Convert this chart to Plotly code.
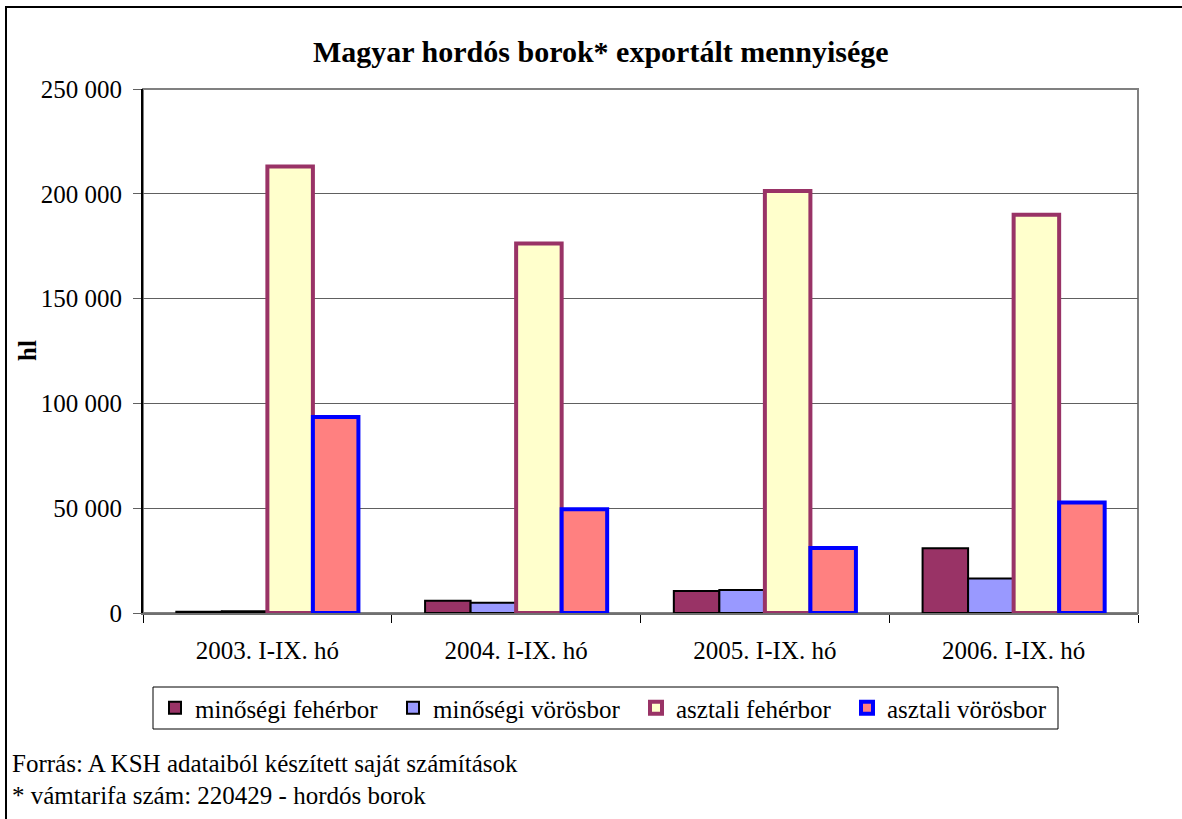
import plotly.graph_objects as go

categories = ["2003. I-IX. hó", "2004. I-IX. hó", "2005. I-IX. hó", "2006. I-IX. hó"]
minosegi_feher = [600, 5800, 10500, 30900]
minosegi_voros = [800, 4900, 11000, 16500]
asztali_feher = [213000, 176300, 201300, 190000]
asztali_voros = [93500, 49500, 31000, 52700]
y_tick_vals = [0, 50000, 100000, 150000, 200000, 250000]
y_tick_text = ["0", "50 000", "100 000", "150 000", "200 000", "250 000"]

FONT = "Liberation Serif, Times New Roman, Times, serif"
# screen-pixel geometry of the plot area
L, R, T, B = 143, 1138, 89, 613
W, H = 1182, 819


def px(sx):
    return (sx - L) / (R - L)


def py(sy):
    return (B - sy) / (B - T)


fig = go.Figure()
series = [
    ("minőségi fehérbor", minosegi_feher, "#993366", "#000000", 2, "legend", 193),
    ("minőségi vörösbor", minosegi_voros, "#9999FF", "#000000", 2, "legend2", 431),
    ("asztali fehérbor", asztali_feher, "#FFFFCC", "#993366", 4, "legend3", 674),
    ("asztali vörösbor", asztali_voros, "#FF8080", "#0000FF", 4, "legend4", 885),
]
legend_layouts = {}
for name, vals, fill, line, lw, leg, text_x in series:
    fig.add_trace(go.Bar(
        x=categories, y=vals, name=name, legend=leg,
        marker=dict(color=fill, line=dict(color=line, width=lw)),
    ))
    legend_layouts[leg] = dict(
        orientation="h", x=px(text_x - 38), xanchor="left",
        y=py(708), yanchor="middle",
        borderwidth=0, bgcolor="rgba(0,0,0,0)",
        font=dict(family=FONT, size=25, color="black"),
    )

fig.update_layout(
    width=W, height=H,
    margin=dict(l=L, r=W - R, t=T, b=H - B, pad=0),
    paper_bgcolor="white", plot_bgcolor="white",
    barmode="group", bargap=0.268, bargroupgap=0,
    font=dict(family=FONT, size=25, color="black"),
    showlegend=True,
    **legend_layouts,
)

fig.update_yaxes(
    range=[0, 250000], tickvals=y_tick_vals, ticktext=y_tick_text,
    showgrid=True, gridcolor="#606060", gridwidth=1,
    showline=True, linecolor="black", linewidth=2,
    ticks="outside", ticklen=8, tickcolor="#606060", tickwidth=1,
    ticklabelstandoff=6, zeroline=False,
    tickfont=dict(family=FONT, size=25),
)
fig.update_xaxes(
    showline=True, linecolor="#707070", linewidth=2,
    ticks="outside", ticklen=8, tickcolor="black", tickwidth=1,
    tickson="boundaries", ticklabelstandoff=14,
    tickfont=dict(family=FONT, size=25),
)

# plot-area border (gray), legend box and outer chart border
fig.add_shape(type="rect", xref="paper", yref="paper", x0=0, x1=1, y0=0, y1=1,
              line=dict(color="#808080", width=2), layer="below")
fig.add_shape(type="rect", xref="paper", yref="paper",
              x0=px(153), x1=px(1058), y0=py(729), y1=py(687),
              line=dict(color="black", width=1), layer="below")
fig.add_shape(type="rect", xref="paper", yref="paper",
              x0=px(6), x1=px(1195), y0=py(830), y1=py(7),
              line=dict(color="black", width=2), layer="above")

fig.add_annotation(text="<b>Magyar hordós borok* exportált mennyisége</b>",
                   xref="paper", yref="paper", x=px(601), y=py(52),
                   xanchor="center", yanchor="middle", showarrow=False,
                   font=dict(family=FONT, size=30, color="black"))
fig.add_annotation(text="<b>hl</b>", textangle=-90,
                   xref="paper", yref="paper", x=px(27), y=py(351),
                   xanchor="center", yanchor="middle", showarrow=False,
                   font=dict(family=FONT, size=25, color="black"))
fig.add_annotation(text="Forrás: A KSH adataiból készített saját számítások",
                   xref="paper", yref="paper", x=px(10), y=py(763),
                   xanchor="left", yanchor="middle", showarrow=False,
                   font=dict(family=FONT, size=25, color="black"))
fig.add_annotation(text="* vámtarifa szám: 220429 - hordós borok",
                   xref="paper", yref="paper", x=px(10), y=py(795),
                   xanchor="left", yanchor="middle", showarrow=False,
                   font=dict(family=FONT, size=25, color="black"))

fig.write_html("out.html", config={"displayModeBar": False},
               post_script="document.body.style.margin='0';")
